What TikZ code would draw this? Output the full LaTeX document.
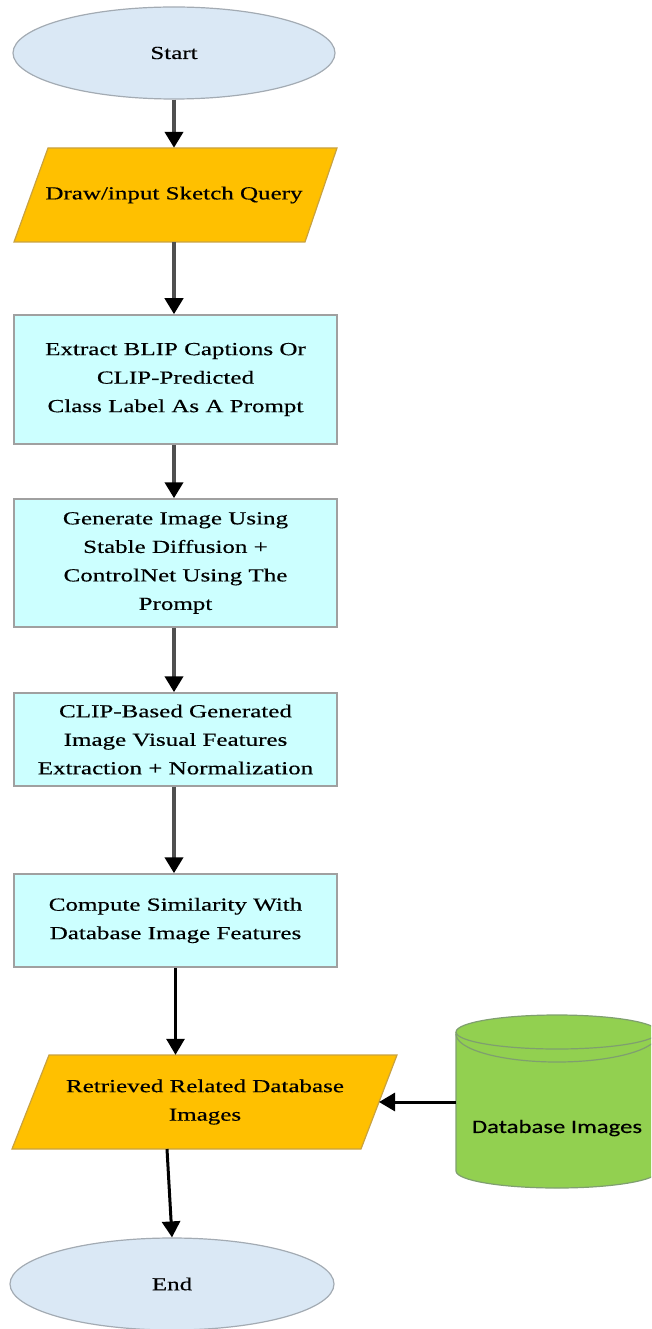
\documentclass[tikz,border=0pt]{standalone}
\usepackage{fontspec}
\setmainfont{Liberation Serif}[FakeStretch=1.36, FakeBold=0.4]
\newfontfamily\dbfont{Carlito}[FakeStretch=1.3, FakeBold=0.3]
\usetikzlibrary{arrows.meta,shapes.geometric}

\definecolor{termfill}{HTML}{DAE8F5}
\definecolor{termline}{HTML}{A3ABB3}
\definecolor{iofill}{HTML}{FFC000}
\definecolor{ioline}{HTML}{C9A23F}
\definecolor{procfill}{HTML}{CCFFFF}
\definecolor{procline}{HTML}{A0A0A0}
\definecolor{dbfill}{HTML}{92D050}
\definecolor{dbline}{HTML}{7F9F6F}
\definecolor{flowgray}{HTML}{505050}

\tikzset{
  txt/.style={font=\fontsize{18.4}{28.5}\selectfont},
  terminal/.style={ellipse, draw=termline, fill=termfill, line width=1.2pt,
    inner sep=0pt, minimum width=322pt, minimum height=92pt, txt},
  process/.style={rectangle, draw=procline, fill=procfill, line width=1.5pt,
    minimum width=323pt, inner sep=0pt, align=center, txt},
  ioshape/.style={draw=ioline, fill=iofill, line width=1.2pt, line join=miter},
  iolabel/.style={minimum height=94pt, inner sep=0pt, align=center, txt},
  flow/.style={draw=flowgray, line width=4pt,
    -{Triangle[width=18pt,length=16pt,color=black]}},
  flowdark/.style={draw=black, line width=3pt,
    -{Triangle[width=18pt,length=16pt]}},
}

\begin{document}
\begin{tikzpicture}[x=1pt,y=1pt]
  \clip (0,0) rectangle (651,-1329);

  % terminals
  \node[terminal] (start) at (174,-53) {Start};
  \node[terminal, minimum width=324pt] (end) at (172,-1284) {End};

  % input parallelogram
  \draw[ioshape] (48,-148) -- (337,-148) -- (305,-242) -- (14,-242) -- cycle;
  \node[iolabel] (p1) at (174,-195) {Draw/input Sketch Query};

  % process steps
  \node[process, minimum height=129pt] (b1) at (175.5,-379.5)
    {Extract BLIP Captions Or\\CLIP-Predicted\\Class Label As A Prompt};
  \node[process, minimum height=128pt] (b2) at (175.5,-563)
    {Generate Image Using\\Stable Diffusion +\\ControlNet Using The\\Prompt};
  \node[process, minimum height=93pt] (b3) at (175.5,-739.5)
    {CLIP-Based Generated\\Image Visual Features\\Extraction + Normalization};
  \node[process, minimum height=93pt] (b4) at (175.5,-920.5)
    {Compute Similarity With\\Database Image Features};

  % output parallelogram
  \draw[ioshape] (49,-1055) -- (397,-1055) -- (361,-1149) -- (12,-1149) -- cycle;
  \node[iolabel] (p2) at (205,-1102) {Retrieved Related Database\\Images};
  \coordinate (p2r) at (379,-1102);
  \coordinate (p2b) at (167,-1149);

  % database cylinder
  \path[fill=dbfill, draw=dbline, line width=1.2pt]
    (456,-1032) -- (456,-1171)
    arc[start angle=180, end angle=360, x radius=101, y radius=17]
    -- (658,-1032)
    arc[start angle=0, end angle=180, x radius=101, y radius=17] -- cycle;
  \draw[dbline, line width=1.2pt]
    (456,-1032) arc[start angle=180, end angle=360, x radius=101, y radius=17];
  \draw[dbline, line width=1.2pt]
    (456,-1034) arc[start angle=180, end angle=360, x radius=101, y radius=28];
  \node[minimum width=202pt, inner sep=0pt,
        font=\dbfont\fontsize{19}{22}\selectfont] (db) at (557,-1128) {Database Images};

  % connectors
  \draw[flow] (start.south) -- (start.south |- p1.north);
  \draw[flow] (p1.south) -- (p1.south |- b1.north);
  \draw[flow] (b1.south -| p1.south) -- (p1.south |- b2.north);
  \draw[flow] (b2.south -| p1.south) -- (p1.south |- b3.north);
  \draw[flow] (b3.south -| p1.south) -- (p1.south |- b4.north);
  \draw[flowdark] (b4.south) -- (b4.south |- p2.north);
  \draw[flowdark] (db.west |- p2r) -- (p2r);
  \draw[flowdark] (p2b) -- (end.north);
\end{tikzpicture}
\end{document}
